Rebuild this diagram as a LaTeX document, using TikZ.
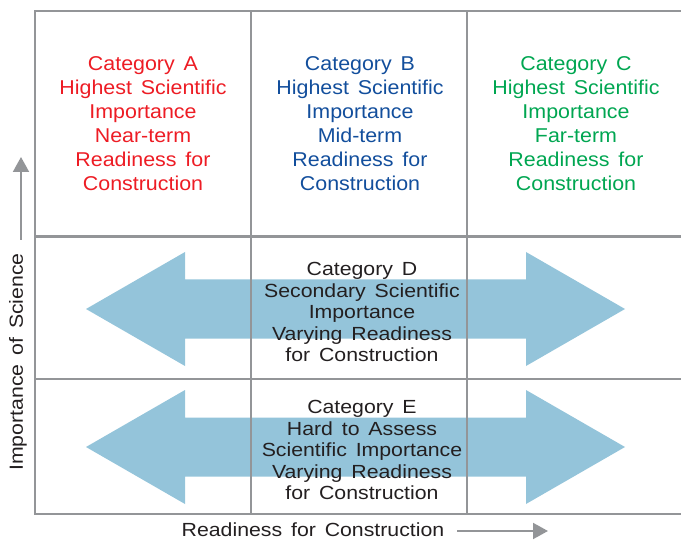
\documentclass[tikz,border=0pt]{standalone}
\usepackage{fontspec}
\setmainfont{Liberation Sans}
\newfontfamily\topfont[FakeStretch=1.07,WordSpace=1.5]{Liberation Sans}
\newfontfamily\lowfont[FakeStretch=1.12,WordSpace=1.5]{Liberation Sans}
\usetikzlibrary{arrows.meta}
\definecolor{gridgray}{HTML}{939598}
\definecolor{catred}{HTML}{ED1C24}
\definecolor{catblue}{HTML}{124E9C}
\definecolor{catgreen}{HTML}{00A651}
\definecolor{arrowblue}{HTML}{94C4DA}
\definecolor{textdark}{HTML}{231F20}
\tikzset{
  gridline/.style={draw=gridgray, line width=2.2pt},
  bigarrow/.style={fill=arrowblue, draw=none},
  toptext/.style={align=center, inner sep=0pt, font=\topfont\fontsize{20}{24}\selectfont},
  lowtext/.style={align=center, inner sep=0pt, text=textdark, font=\lowfont\fontsize{19}{21.5}\selectfont},
  axistext/.style={inner sep=0pt, text=textdark, font=\lowfont\fontsize{19}{21.5}\selectfont},
  axisarrow/.style={draw=gridgray, line width=2pt, -{Triangle[length=15pt,width=16pt]}}
}
\begin{document}
\begin{tikzpicture}[x=1pt,y=1pt]
\useasboundingbox (0,0) rectangle (681,542);
% double arrows
\fill[bigarrow] (86,233) -- (185,290) -- (185,262.5) -- (526,262.5) -- (526,290) -- (625,233)
  -- (526,176) -- (526,203.5) -- (185,203.5) -- (185,176) -- cycle;
\fill[bigarrow] (86,95) -- (185,152) -- (185,124.5) -- (526,124.5) -- (526,152) -- (625,95)
  -- (526,38) -- (526,65.5) -- (185,65.5) -- (185,38) -- cycle;
% grid
\draw[gridline] (681,531) -- (35,531) -- (35,28) -- (681,28);
\draw[gridline] (35,305.5) -- (681,305.5);
\draw[gridline] (35,163) -- (681,163);
\draw[gridline] (251,531) -- (251,28);
\draw[gridline] (467,531) -- (467,28);
% texts
\node[toptext, text=catred] (A) at (143,418) {Category A\\Highest Scientific\\Importance\\Near-term\\Readiness for\\Construction};
\node[toptext, text=catblue] (B) at (360,418) {Category B\\Highest Scientific\\Importance\\Mid-term\\Readiness for\\Construction};
\node[toptext, text=catgreen] (C) at (576,418) {Category C\\Highest Scientific\\Importance\\Far-term\\Readiness for\\Construction};
\node[lowtext] (D) at (362,230) {Category D\\Secondary Scientific\\Importance\\Varying Readiness\\for Construction};
\node[lowtext] (E) at (362,92) {Category E\\Hard to Assess\\Scientific Importance\\Varying Readiness\\for Construction};
% axes
\node[axistext, rotate=90] (ylab) at (18,180) {Importance of Science};
\coordinate (ya) at (21,302);
\coordinate (yb) at (21,385);
\draw[axisarrow] (ya) -- (yb);
\node[axistext] (xlab) at (313,12) {Readiness for Construction};
\coordinate (xa) at (457,11);
\coordinate (xb) at (548,11);
\draw[axisarrow] (xa) -- (xb);
\end{tikzpicture}
\end{document}
